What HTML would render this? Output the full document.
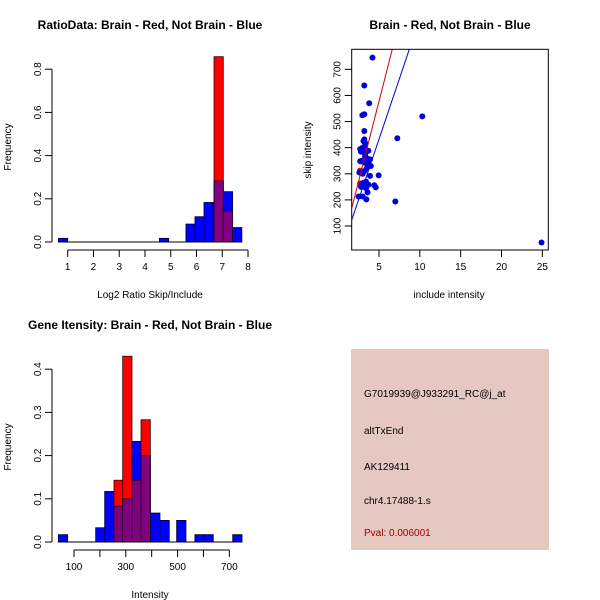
<!DOCTYPE html>
<html><head><meta charset="utf-8"><style>
body{margin:0;background:#fff}
svg{display:block;font-family:"Liberation Sans",sans-serif}
</style></head><body>
<svg id="c" width="600" height="600" viewBox="0 0 600 600">
<rect width="600" height="600" fill="#fff"/>
<text x="150" y="29" text-anchor="middle" font-size="12" font-weight="bold">RatioData: Brain - Red, Not Brain - Blue</text>
<text x="450" y="29" text-anchor="middle" font-size="12" font-weight="bold">Brain - Red, Not Brain - Blue</text>
<text x="150" y="329" text-anchor="middle" font-size="12" font-weight="bold">Gene Itensity: Brain - Red, Not Brain - Blue</text>
<text x="150" y="298" text-anchor="middle" font-size="10">Log2 Ratio Skip/Include</text>
<text x="11" y="147" text-anchor="middle" font-size="10" transform="rotate(-90 11 147)">Frequency</text>
<text x="449" y="298" text-anchor="middle" font-size="10">include intensity</text>
<text x="311" y="150" text-anchor="middle" font-size="10" transform="rotate(-90 311 150)">skip intensity</text>
<text x="150" y="598" text-anchor="middle" font-size="10">Intensity</text>
<text x="11" y="447" text-anchor="middle" font-size="10" transform="rotate(-90 11 447)">Frequency</text>
<g id="p1"></g>
<g id="p2"></g>
<g id="p3"></g>
<g>
<rect x="351" y="349" width="198" height="201" fill="#e6c8c2"/>
<text x="364" y="397" font-size="10">G7019939@J933291_RC@j_at</text>
<text x="364" y="434" font-size="10">altTxEnd</text>
<text x="364" y="470" font-size="10">AK129411</text>
<text x="364" y="504" font-size="10">chr4.17488-1.s</text>
<text x="364" y="536" font-size="10" fill="#a00000">Pval: 0.006001</text>
</g>
</svg>
<script>
// ---- ratio histogram data ----
const ratioBinStarts=[0.64,4.56,5.59,5.94,6.29,6.68,7.04,7.40];
const ratioBlue=[0.017,0.017,0.083,0.117,0.183,0.283,0.233,0.067];
const ratioRed=[0,0,0,0,0,0.858,0.142,0];
const ratioBinWidth=0.36;
const ratioXTicks=[1,2,3,4,5,6,7,8];
const ratioYTicks=[0,0.2,0.4,0.6,0.8];
// ---- scatter data ----
const incl=[4.2,3.2,3.8,2.96,3.2,10.3,3.2,7.24,3.2,3.1,3.3,4.96,3.9,7.0,3.45,2.5,3.0,4.42,4.6,3.6,24.9,
 2.8,3.0,3.3,3.5,3.7,2.9,3.1,3.4,3.6,4.0,2.7,3.2,3.5,3.8,2.6,3.0,3.3,3.6,2.9,3.1,3.4,3.7,2.8,3.2,3.5,3.0,3.3,2.7,3.9,3.4];
const skip=[745,638,570,524,528,520,464,436,432,425,418,294,292,194,202,213,213,256,248,229,37,
 385,390,375,360,388,350,345,340,355,330,348,310,320,352,305,300,365,338,260,265,270,258,250,255,262,400,405,395,355,245];
const redIncl=[2.67,2.67];
const redSkip=[312,263];
const redFit=[-35,122.5];  // intercept, slope
const blueFit=[-31,92.7];
const scXTicks=[5,10,15,20,25];
const scYTicks=[100,200,300,400,500,600,700];
// ---- intensity histogram data ----
const intBinStarts=[39.5,183.8,218.5,254.5,288,324,358.8,396,432,496.4,567,602,713];
const intBlue=[0.017,0.033,0.117,0.083,0.1,0.233,0.2,0.067,0.05,0.05,0.017,0.017,0.017];
const intRed=[0,0,0,0.143,0.43,0.143,0.283,0,0,0,0,0,0];
const intBinWidth=36;
const intXTicks=[100,200,300,400,500,600,700];
const intXLabels=["100","","300","","500","","700"];
const intYTicks=[0,0.1,0.2,0.3,0.4];

const NS="http://www.w3.org/2000/svg";
function mk(parent,tag,attrs){const e=document.createElementNS(NS,tag);for(const k in attrs)e.setAttribute(k,attrs[k]);parent.appendChild(e);return e;}

function histogram(g,starts,blue,red,bw,xs,ys,xTicks,xLabels,yTicks,yFmt,xAxisY){
  starts.forEach((s,i)=>{
    const x0=xs(s),x1=xs(s+bw);
    const b=blue[i],r=red[i];
    if(b>0){const e=mk(g,'rect',{x:x0,y:ys(b),width:x1-x0,height:ys(0)-ys(b),fill:'#0000ff',stroke:'#000033','stroke-width':0.8});
      
      }
    if(r>0){const e=mk(g,'rect',{x:x0,y:ys(r),width:x1-x0,height:ys(0)-ys(r),fill:'#ff0000',stroke:'#330000','stroke-width':0.8});
      
      }
    const m=Math.min(b,r);
    if(m>0){const e=mk(g,'rect',{x:x0,y:ys(m),width:x1-x0,height:ys(0)-ys(m),fill:'#80007f',stroke:'#200020','stroke-width':0.8});
      
      }
  });
  const base=mk(g,'line',{x1:xs(starts[0])-0.5,x2:xs(starts[starts.length-1]+bw)+0.5,y1:ys(0),y2:ys(0),stroke:'#000'});
  
  
  mk(g,'line',{x1:52,x2:52,y1:ys(yTicks[0]),y2:ys(yTicks[yTicks.length-1]),stroke:'#000'});
  yTicks.forEach(t=>{mk(g,'line',{x1:45,x2:52,y1:ys(t),y2:ys(t),stroke:'#000'});
    const tx=mk(g,'text',{x:41,y:ys(t),'font-size':10,'text-anchor':'middle',transform:`rotate(-90 41 ${ys(t)})`});tx.textContent=yFmt(t);
    
    });
  mk(g,'line',{x1:xs(xTicks[0]),x2:xs(xTicks[xTicks.length-1]),y1:xAxisY,y2:xAxisY,stroke:'#000'});
  xTicks.forEach((t,i)=>{mk(g,'line',{x1:xs(t),x2:xs(t),y1:xAxisY,y2:xAxisY+7,stroke:'#000'});
    const tx=mk(g,'text',{x:xs(t),y:xAxisY+20,'font-size':10,'text-anchor':'middle'});tx.textContent=xLabels[i];
    
    });
}

const xs1=v=>67.7+(v-1)*25.76, ys1=v=>242-v*216;
histogram(document.getElementById('p1'),ratioBinStarts,ratioBlue,ratioRed,ratioBinWidth,xs1,ys1,
  ratioXTicks,ratioXTicks.map(String),ratioYTicks,t=>t.toFixed(1),250);

const xs3=v=>74+(v-100)*0.2589, ys3=v=>542-v*432;
histogram(document.getElementById('p3'),intBinStarts,intBlue,intRed,intBinWidth,xs3,ys3,
  intXTicks,intXLabels,intYTicks,t=>t.toFixed(1),550);

(function(){
  const g=document.getElementById('p2');
  const xs=v=>379+(v-5)*8.167, ys=v=>226-(v-100)*0.2611;
  const L=351.7,R=548.3,T=49.3,B=250;
  const cp=mk(g,'clipPath',{id:'clip2'});mk(cp,'rect',{x:L,y:T,width:R-L,height:B-T});
  const inner=mk(g,'g',{'clip-path':'url(#clip2)'});
  redIncl.forEach((x,i)=>{const c=mk(inner,'circle',{cx:xs(x),cy:ys(redSkip[i]),r:3,fill:'#ee0000'});
    
    });
  incl.forEach((x,i)=>{const c=mk(inner,'circle',{cx:xs(x),cy:ys(skip[i]),r:3,fill:'#0000dd'});
    
    });
  const xmin=1.6,xmax=26;
  [[redFit,'#cc0000','fit-line-brain'],[blueFit,'#0000cc','fit-line-not-brain']].forEach(([f,col,nm])=>{
    const l=mk(inner,'line',{x1:xs(xmin),y1:ys(f[0]+f[1]*xmin),x2:xs(xmax),y2:ys(f[0]+f[1]*xmax),stroke:col,'stroke-width':1});
    
    });
  mk(g,'rect',{x:L,y:T,width:R-L,height:B-T,fill:'none',stroke:'#000'});
  scXTicks.forEach(t=>{mk(g,'line',{x1:xs(t),x2:xs(t),y1:B,y2:B+7,stroke:'#000'});
    const tx=mk(g,'text',{x:xs(t),y:B+20,'font-size':10,'text-anchor':'middle'});tx.textContent=t;
    
    });
  scYTicks.forEach(t=>{mk(g,'line',{x1:L-7,x2:L,y1:ys(t),y2:ys(t),stroke:'#000'});
    const tx=mk(g,'text',{x:L-11,y:ys(t),'font-size':10,'text-anchor':'middle',transform:`rotate(-90 ${L-11} ${ys(t)})`});tx.textContent=t;
    
    });
})();
</script>
</body></html>
